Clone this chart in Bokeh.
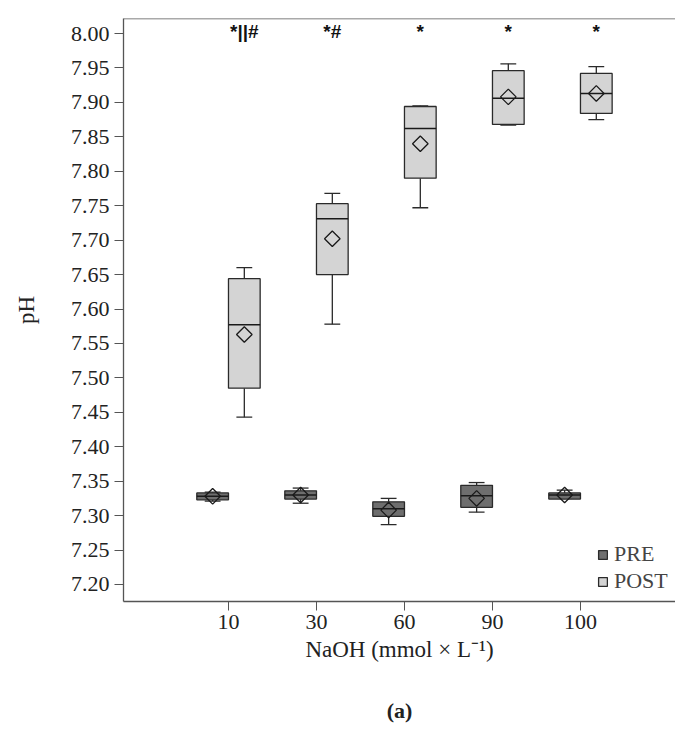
from bokeh.plotting import figure
from bokeh.models import (Range1d, FixedTicker, Span, Legend, LegendItem, LinearAxis,
                          ColumnDataSource, PrintfTickFormatter)
from bokeh.core.properties import value
from bokeh.embed import file_html
from bokeh.resources import INLINE

categories = ["10", "30", "60", "90", "100"]

pre_min = [7.321, 7.318, 7.287, 7.305, 7.325]
pre_q1 = [7.323, 7.324, 7.299, 7.312, 7.324]
pre_med = [7.328, 7.330, 7.310, 7.329, 7.330]
pre_q3 = [7.333, 7.336, 7.320, 7.344, 7.333]
pre_max = [7.334, 7.340, 7.325, 7.348, 7.337]
pre_mean = [7.328, 7.330, 7.308, 7.325, 7.330]

post_min = [7.443, 7.578, 7.747, 7.867, 7.875]
post_q1 = [7.485, 7.650, 7.790, 7.868, 7.884]
post_med = [7.577, 7.731, 7.862, 7.906, 7.913]
post_q3 = [7.644, 7.753, 7.894, 7.946, 7.942]
post_max = [7.660, 7.768, 7.895, 7.956, 7.952]
post_mean = [7.563, 7.702, 7.840, 7.908, 7.913]

sig_labels = ["*||#", "*#", "*", "*", "*"]

FONT = "Liberation Serif"
FS = "22px"
OFF = 0.18
BOXW = 0.36
CAPW = 0.18

p = figure(width=675, height=738, output_backend="svg", toolbar_location=None,
           x_range=Range1d(-1.193, 5.08), y_range=Range1d(7.1753, 8.0218),
           min_border_left=123, min_border_right=0, min_border_top=18, min_border_bottom=137)
p.xgrid.visible = False
p.ygrid.visible = False
p.outline_line_color = None
p.background_fill_color = "white"
p.border_fill_color = "white"

idx = list(range(len(categories)))
LC = "#2a2a2a"

def draw(off, q1, q3, med, lo, hi, mean, fill):
    xs = [i + off for i in idx]
    src = ColumnDataSource(dict(x=xs, q1=q1, q3=q3, med=med, lo=lo, hi=hi, mean=mean,
                                xl=[x - BOXW / 2 for x in xs], xr=[x + BOXW / 2 for x in xs],
                                cl=[x - CAPW / 2 for x in xs], cr=[x + CAPW / 2 for x in xs]))
    p.segment(x0="x", y0="q3", x1="x", y1="hi", source=src, line_color=LC, line_width=1.3)
    p.segment(x0="x", y0="q1", x1="x", y1="lo", source=src, line_color=LC, line_width=1.3)
    p.segment(x0="cl", y0="hi", x1="cr", y1="hi", source=src, line_color=LC, line_width=1.3)
    p.segment(x0="cl", y0="lo", x1="cr", y1="lo", source=src, line_color=LC, line_width=1.3)
    r = p.vbar(x="x", width=BOXW, bottom="q1", top="q3", source=src, fill_color=fill,
               line_color=LC, line_width=1.3)
    p.segment(x0="xl", y0="med", x1="xr", y1="med", source=src, line_color="#1a1a1a", line_width=1.5)
    p.scatter(x="x", y="mean", source=src, marker="square", angle=0.7854, size=11, fill_color=None,
              line_color="#1a1a1a", line_width=1.3)
    return r

r_pre = draw(-OFF, pre_q1, pre_q3, pre_med, pre_min, pre_max, pre_mean, "#6e6e6e")
r_post = draw(OFF, post_q1, post_q3, post_med, post_min, post_max, post_mean, "#d4d4d4")

p.text(x=[i + OFF for i in idx], y=[8.003] * len(idx), text=sig_labels,
       text_align="center", text_baseline="middle", text_font_size="19px",
       text_font_style="bold", text_color="#111111", text_font=value("Liberation Sans"))

p.add_layout(Span(location=8.0218, dimension="width", line_color="#555555", line_width=1.3))

p.xaxis.ticker = FixedTicker(ticks=idx)
p.xaxis.major_label_overrides = {i: c for i, c in zip(idx, categories)}
p.xaxis.minor_tick_line_color = None
p.yaxis.minor_tick_line_color = None
p.yaxis.ticker = FixedTicker(ticks=[round(7.20 + 0.05 * k, 2) for k in range(17)])
p.yaxis.formatter = PrintfTickFormatter(format="%.2f")
for ax in (p.xaxis, p.yaxis):
    ax.major_label_text_font = FONT
    ax.major_label_text_font_size = FS
    ax.major_label_text_color = "#222222"
    ax.axis_label_text_font = FONT
    ax.axis_label_text_font_size = "23px"
    ax.axis_label_text_font_style = "normal"
    ax.axis_label_text_color = "#222222"
    ax.axis_line_color = "#555555"
    ax.axis_line_width = 1.3
    ax.major_tick_line_color = "#555555"
    ax.major_tick_out = 9
    ax.major_tick_in = 0
p.xaxis.axis_label = "NaOH (mmol × L⁻¹)"
p.yaxis.axis_label = "pH"
p.xaxis.major_label_standoff = 4
p.xaxis.axis_label_standoff = 5
p.yaxis.major_label_standoff = 5
p.yaxis.axis_label_standoff = 29

legend = Legend(items=[LegendItem(label="PRE", renderers=[r_pre]),
                       LegendItem(label="POST", renderers=[r_post])],
                location=(474, 7), background_fill_alpha=0, border_line_color=None,
                label_text_font=FONT, label_text_font_size=FS, glyph_width=11, glyph_height=11,
                label_standoff=6, spacing=1, margin=0, padding=2, label_height=22)
p.add_layout(legend)

cap_axis = LinearAxis(ticker=FixedTicker(ticks=[]), axis_line_color=None,
                      major_tick_line_color=None, minor_tick_line_color=None,
                      axis_label="(a)", axis_label_text_font=FONT, axis_label_text_font_size=FS,
                      axis_label_text_font_style="bold", axis_label_text_color="#222222",
                      axis_label_standoff=33)
p.add_layout(cap_axis, "below")

open("out.html", "w").write(file_html(p, INLINE))
